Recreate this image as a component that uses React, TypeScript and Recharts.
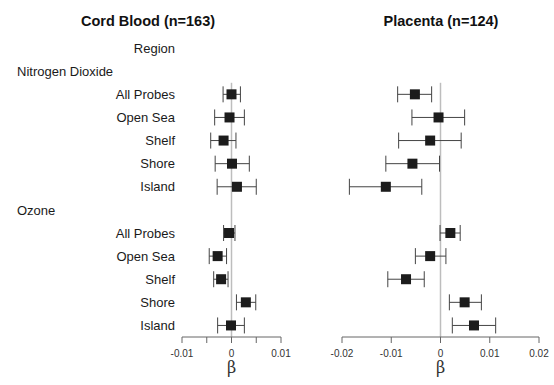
import { ScatterChart, Scatter, XAxis, YAxis, ErrorBar, ReferenceLine, Label } from 'recharts'

const rowLabels = [
  'Region',
  'Nitrogen Dioxide',
  'All Probes',
  'Open Sea',
  'Shelf',
  'Shore',
  'Island',
  'Ozone',
  'All Probes',
  'Open Sea',
  'Shelf',
  'Shore',
  'Island',
]
const headerRows = [1, 7]
const itemRows = [2, 3, 4, 5, 6, 8, 9, 10, 11, 12]

// Cord blood (n=163): estimate and 95% CI, in itemRows order
const cordEst = [0.0, -0.0004, -0.0016, 0.0001, 0.0011, -0.0005, -0.0028, -0.0021, 0.0029, -0.0001]
const cordLow = [-0.0017, -0.0034, -0.0042, -0.0033, -0.0029, -0.0016, -0.0045, -0.0036, 0.001, -0.0028]
const cordHigh = [0.0018, 0.0026, 0.0009, 0.0036, 0.005, 0.0007, -0.001, -0.0007, 0.0049, 0.0026]

// Placenta (n=124)
const placEst = [-0.0052, -0.0004, -0.0021, -0.0057, -0.0111, 0.002, -0.0021, -0.007, 0.0049, 0.0068]
const placLow = [-0.0087, -0.0058, -0.0085, -0.0111, -0.0185, -0.0001, -0.0051, -0.0107, 0.0018, 0.0024]
const placHigh = [-0.0018, 0.0049, 0.0042, -0.0002, -0.0038, 0.004, 0.0011, -0.0033, 0.0083, 0.0112]

const cordTicks = [-0.01, -0.005, 0, 0.005, 0.01]
const placTicks = [-0.02, -0.01, 0, 0.01, 0.02]

const FONT = '"Liberation Sans", Arial, sans-serif'

function build(est: number[], low: number[], high: number[]) {
  return itemRows.map((row, i) => ({
    row,
    est: est[i],
    err: [est[i] - low[i], high[i] - est[i]],
  }))
}

const cordData = build(cordEst, cordLow, cordHigh)
const placData = build(placEst, placLow, placHigh)

function Square(props: any) {
  const { cx, cy } = props
  if (cx == null || cy == null) return null
  return <rect x={cx - 5} y={cy - 5} width={10} height={10} fill="#1c1c1c" />
}

function RowTick(props: any) {
  const { y, payload } = props
  const idx = payload.value as number
  const isHeader = headerRows.includes(idx)
  return (
    <text
      x={isHeader ? 17 : 175}
      y={y}
      dy="0.36em"
      textAnchor={isHeader ? 'start' : 'end'}
      fontSize={13}
      fontFamily={FONT}
      fill="#1a1a1a"
    >
      {rowLabels[idx]}
    </text>
  )
}

const fmt = (v: number) => {
  if (v === 0) return '0'
  if (Math.abs(v) === 0.005) return ''
  return String(v)
}

function Panel(props: {
  data: { row: number; est: number; err: number[] }[]
  width: number
  left: number
  right: number
  domain: [number, number]
  ticks: number[]
  showLabels: boolean
}) {
  const { data, width, left, right, domain, ticks, showLabels } = props
  return (
    <ScatterChart width={width} height={385} margin={{ top: 25, right, bottom: 0, left: showLabels ? 0 : left }}>
      <XAxis
        type="number"
        dataKey="est"
        domain={domain}
        ticks={ticks}
        tickFormatter={fmt}
        allowDataOverflow
        height={48}
        axisLine={{ stroke: '#666' }}
        tickLine={{ stroke: '#666' }}
        tickMargin={7}
        tick={{ fontSize: 10, fill: '#333', stroke: 'none', fontFamily: FONT }}
      >
        <Label
          value="β"
          position="insideBottom"
          offset={12}
          fontSize={16}
          fill="#333"
          stroke="none"
          fontFamily='"DejaVu Serif", serif'
        />
      </XAxis>
      <YAxis
        type="number"
        dataKey="row"
        domain={[-1, 12.5]}
        reversed
        hide={!showLabels}
        width={left}
        ticks={rowLabels.map((_, i) => i)}
        interval={0}
        axisLine={false}
        tickLine={false}
        tick={<RowTick />}
      />
      <ReferenceLine
        segment={[
          { x: 0, y: 1.5 },
          { x: 0, y: 12.5 },
        ]}
        stroke="#bdbdbd"
        strokeWidth={1.5}
      />
      <Scatter data={data} shape={<Square />} isAnimationActive={false}>
        <ErrorBar dataKey="err" direction="x" width={8} stroke="#444" strokeWidth={1} />
      </Scatter>
    </ScatterChart>
  )
}

export default function App() {
  return (
    <div style={{ position: 'absolute', left: 0, top: 0, width: 554, height: 385, background: '#fff' }}>
      <div
        style={{
          position: 'absolute',
          left: 48,
          top: 13,
          width: 200,
          textAlign: 'center',
          fontFamily: FONT,
          fontWeight: 'bold',
          fontSize: 14.5,
          lineHeight: '16px',
          color: '#111',
        }}
      >
        Cord Blood (n=163)
      </div>
      <div
        style={{
          position: 'absolute',
          left: 341,
          top: 13,
          width: 200,
          textAlign: 'center',
          fontFamily: FONT,
          fontWeight: 'bold',
          fontSize: 14.5,
          lineHeight: '16px',
          color: '#111',
        }}
      >
        Placenta (n=124)
      </div>
      <div style={{ position: 'absolute', left: 0, top: 0 }}>
        <Panel data={cordData} width={300} left={182} right={19} domain={[-0.01, 0.01]} ticks={cordTicks} showLabels />
      </div>
      <div style={{ position: 'absolute', left: 300, top: 0 }}>
        <Panel data={placData} width={254} left={42} right={15} domain={[-0.02, 0.02]} ticks={placTicks} showLabels={false} />
      </div>
    </div>
  )
}
